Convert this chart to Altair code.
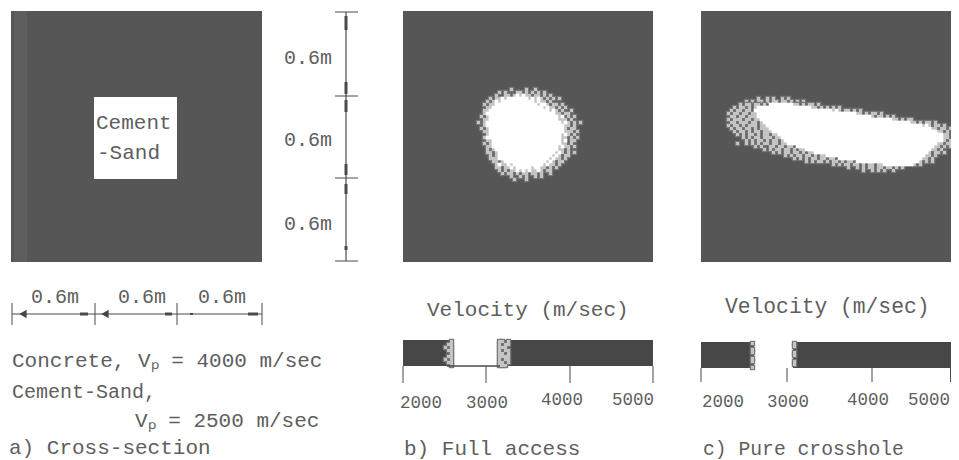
import altair as alt
import pandas as pd

FONT = "Liberation Mono"
DARK = "#565656"
INK = "#5e5e5e"

# panels: x0, x1, y0, y1 (figure units)
panel_x0 = [11, 403, 701]
panel_x1 = [262, 653, 952]
panel_y0 = [11, 11, 11]
panel_y1 = [262, 262, 262]

# blob b, 3-unit cells from (477, 88): o = speckle, # = white
blob_b = [
    "...........o....o..o................",
    ".......o.o...oo.o.o.o.o.............",
    "......o..oo.o#o#oo.oo.o.o...........",
    "....o.oo#o#######o#o#o.o.o.o........",
    "...o.o#o###########o#oo.o...........",
    "..o.oo##############o##o.oo.o.......",
    "...oo#################o#oo.o.o......",
    "..oo####################o#o.o..o....",
    "..o#######################oo.oo.....",
    ".o.o#######################o#.o.o...",
    "..oo#######################ooo.o....",
    "o.o#########################o#o.o.o.",
    "..o##########################oo.o...",
    ".o.o#########################o.oo...",
    "..oo#########################ooo.o..",
    "...o########################o#o.o...",
    "..o#########################oo.o.o..",
    "...oo#######################o#.oo...",
    "..o.o#######################oo.o....",
    "...oo######################o#oo.o...",
    "...o.o#####################oo.o.....",
    "...oo.o###################o#o.o.o...",
    "....o.o##################o#o.oo.....",
    "....ooo#################o#oo.o......",
    ".....oo.o##############o#o.oo.......",
    "......o#oo#o##########o#oo.o.......",
    "......oo.oo#o#####o##oo.o.o........",
    ".......o.o.oo#o#o#oo#o.oo..........",
    "........o.oo.o.oo.oo.o..o...........",
    "...........o..o.o..o.o..............",
    "............o...o...................",
]

# blob c, 3-unit cells from (727, 103): left fringe, white run, right fringe
c_lead = ["....o.oo.oo.o.", "..o.oo.o.o", ".o.oo.oo.", "o.oo.oo.oo", ".oo.oo.ooo",
          "o.ooo.oo.oo", ".oo.ooo.oo.o", "o.oo.o.ooo.oo", ".o.oo.oo.o.ooo",
          "..o.oo.o.oo.ooo", "...o.o.oo.o.oo.oo", ".....o.o.oo.ooo.oo",
          "......o.o.oo.o.oo.o", "...o..o.o.o.oo.oo.oo", ".........o.o..oo.oo.oo.",
          "............o.o.oo.oo.o.oo", "...............o.o.oo.oo.o.oo",
          "...................o.o.oo.oo.o.oo", "......................o.o.o.oo.oo.oo.",
          "..........................o.o.oo.o.oo.o.oo.",
          "...................................o.o.oo.oo.o.oo.oo",
          "........................................o..o.o.oo.oo.oo.o.o",
          ".............................................o..o.o.o..o"]
c_core = [8, 18, 26, 33, 38, 44, 49, 52, 54, 55, 54, 54, 53, 50, 46, 42, 38, 33, 28, 21, 10, 0, 0]
c_tail = ["oo.o.oo.o", "oo.o.o.o.o", "o#o.oo.o.o", "oo.o.oo.o", "o.oo.o.o", "oo.o.oo",
          "oo.o.oo.o", "o#o.oo.o", "oo.oo.o", "oo.o.o.o", "#oo.o.o", "oo.o.oo", "o.oo.o",
          "oo.oo.o", "oo.o.o", "oo.o", "o.oo.o", "oo.o", "oo.o", "o.o.o", "o.o", "", ""]
c_top = ["..........o..o.o..o.o", "......o.o.oo.o.oo.oo.o.o.o"]

# colour bar fringes, 3-unit cells
bar_b_left = ["..o", ".oo", "o.o", ".oo", "..o", ".oo", "o.o", ".oo", "..o"]
bar_b_right = ["oo.o", "o.oo", "ooo.", "o.oo", "oo.o", "oooo", "o.oo", "oo.o", "ooo."]
bar_c_left = ["o", ".", "o", "o", ".", "o", "o", ".", "o"]
bar_c_right = ["o", "o", ".", "o", "o", ".", "o", "o", "."]

rects = []
def rect(x, x2, y, y2, c):
    rects.append(dict(x=x, x2=x2, y=y, y2=y2, c=c))

def cells(rows, x0, y0):
    for want, pad, fill in [("o", 1.2, "#787878"), ("o", 0, "#c4c4c4"), ("#", 0.3, "#ffffff")]:
        for r, row in enumerate(rows):
            for k, ch in enumerate(row):
                if ch == want:
                    rect(x0 + 3 * k - pad, x0 + 3 * k + 3 + pad, y0 + 3 * r - pad, y0 + 3 * r + 3 + pad, fill)

for a, b, c, d in zip(panel_x0, panel_x1, panel_y0, panel_y1):
    rect(a, b, c, d, DARK)
rect(14, 27, 11, 262, "#5e5e5e")
rect(94, 177, 97, 179, "#ffffff")

cells(blob_b, 477, 88)
cells(c_top, 727, 97)
cells([l + "#" * n + t for l, n, t in zip(c_lead, c_core, c_tail)], 727, 103)

# colour bars
rect(403, 653, 340, 366, "#474747")
rect(453, 498, 340, 366, "#ffffff")
cells(bar_b_left, 444, 340)
cells(bar_b_right, 498, 340)
rect(701, 953, 342, 368, "#474747")
rect(754, 793, 342, 368, "#ffffff")
cells(bar_c_left, 751, 342)
cells(bar_c_right, 793, 342)

# rules: x, x2, y, y2, width
rule_x = [346, 335, 335, 335, 335, 346, 346, 346, 346, 346, 346,
          12, 12, 95, 177, 262, 80, 165, 190, 248,
          403, 486, 570, 653, 701, 787, 872, 950.5, 447]
rule_x2 = [346, 358, 358, 358, 358, 346, 346, 346, 346, 346, 346,
           262, 12, 95, 177, 262, 88, 172, 193, 258,
           403, 486, 570, 653, 701, 787, 872, 950.5, 500]
rule_y = [12, 12, 96, 178, 261, 16, 82, 100, 164, 184, 246,
          314, 303, 303, 303, 303, 314, 314, 314, 314,
          366, 366, 366, 366, 368, 368, 368, 368, 366]
rule_y2 = [261, 12, 96, 178, 261, 30, 94, 112, 175, 194, 250,
           314, 325, 325, 325, 325, 314, 314, 314, 314,
           383, 383, 383, 383, 382, 382, 382, 382, 366]
rule_w = [1.2, 1, 1, 1, 1, 3, 3, 3, 3, 3, 3,
          1.2, 1, 1, 1, 1, 3, 3, 2, 3,
          1, 1, 1, 1, 1, 1, 1, 1, 1.5]
rule_df = pd.DataFrame(dict(x=rule_x, x2=rule_x2, y=rule_y, y2=rule_y2, w=rule_w))

# arrows
arrow_x = [23, 105]
arrow_y = [314, 314]
arrow_df = pd.DataFrame(dict(x=arrow_x, y=arrow_y))

# text
labels = ["Cement", "-Sand", "0.6m", "0.6m", "0.6m", "0.6m", "0.6m", "0.6m",
          "Velocity (m/sec)", "Velocity (m/sec)",
          "2000", "3000", "4000", "5000", "2000", "3000", "4000", "5000",
          "Concrete, V\u209a = 4000 m/sec", "Cement-Sand,", "V\u209a = 2500 m/sec",
          "a) Cross-section", "b) Full access", "c) Pure crosshole"]
label_x = [96, 97, 284, 284, 284, 31, 118, 198,
           427, 725,
           400, 466, 541, 612, 702, 767, 847, 908,
           12, 12, 135,
           9, 404, 703]
label_y = [123, 153, 58, 140, 224, 297, 297, 297,
           310, 307,
           403, 403, 400, 400, 402, 402, 400, 400,
           361, 392, 421,
           448, 449, 449]
label_size = [21, 21, 20, 20, 20, 20, 20, 20,
              21, 21.3,
              17.5, 17.5, 17.5, 17.5, 17.5, 17.5, 17.5, 17.5,
              21, 20, 21,
              21, 21, 19.7]
text_df = pd.DataFrame(dict(t=labels, x=label_x, y=label_y, s=label_size))

X = alt.X("x:Q", scale=alt.Scale(domain=[8, 951]), axis=None)
Y = alt.Y("y:Q", scale=alt.Scale(domain=[468, 8]), axis=None)

rect_layer = alt.Chart(pd.DataFrame(rects)).mark_rect().encode(
    x=X, x2="x2:Q", y=Y, y2="y2:Q", color=alt.Color("c:N", scale=None))
rule_layer = alt.Chart(rule_df).mark_rule(color="#4a4a4a").encode(
    x=X, x2="x2:Q", y=Y, y2="y2:Q", strokeWidth=alt.StrokeWidth("w:Q", scale=None))
arrow_layer = alt.Chart(arrow_df).mark_point(shape="triangle-left", filled=True, color="#444444", opacity=1, size=70).encode(x=X, y=Y)
text_layer = alt.Chart(text_df).mark_text(font=FONT, align="left", baseline="middle", color=INK).encode(
    x=X, y=Y, text="t:N", size=alt.Size("s:Q", scale=None))

chart = alt.layer(rect_layer, rule_layer, arrow_layer, text_layer).properties(
    width=943, height=460, padding=0,
    autosize=alt.AutoSizeParams(type="none"),
).configure_view(stroke=None)

chart.save("out.html", embed_options={"renderer": "svg", "actions": False})
